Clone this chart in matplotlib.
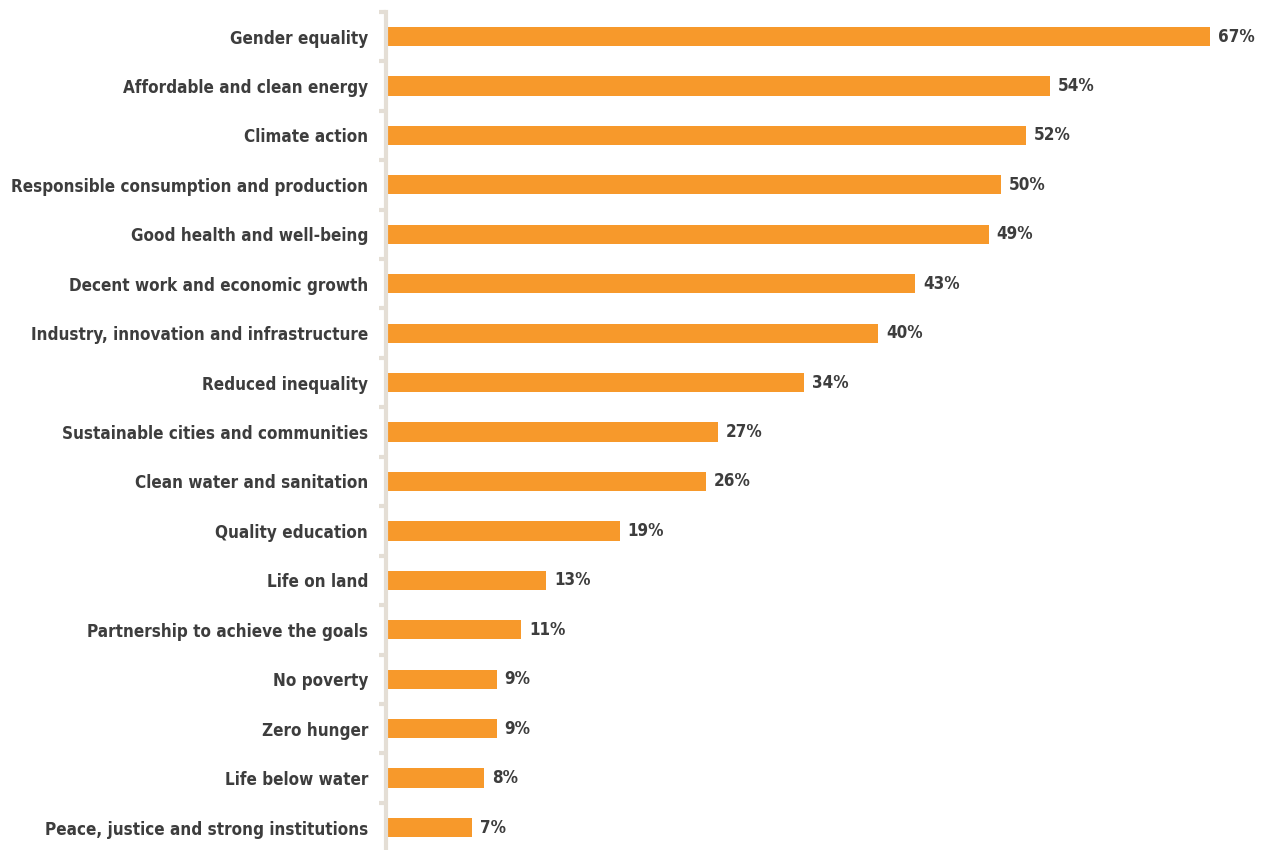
import numpy as np
import matplotlib.pyplot as plt
from matplotlib import font_manager
from matplotlib.font_manager import FontProperties

categories = [
    "Gender equality",
    "Affordable and clean energy",
    "Climate action",
    "Responsible consumption and production",
    "Good health and well-being",
    "Decent work and economic growth",
    "Industry, innovation and infrastructure",
    "Reduced inequality",
    "Sustainable cities and communities",
    "Clean water and sanitation",
    "Quality education",
    "Life on land",
    "Partnership to achieve the goals",
    "No poverty",
    "Zero hunger",
    "Life below water",
    "Peace, justice and strong institutions",
]
values = [67, 54, 52, 50, 49, 43, 40, 34, 27, 26, 19, 13, 11, 9, 9, 8, 7]

# look for a narrow bold face, else fall back to Roboto bold
cond = [f.fname for f in font_manager.fontManager.ttflist
        if ('Condensed' in f.fname or 'Narrow' in f.fname) and 'Bold' in f.fname
        and 'Oblique' not in f.fname and 'Italic' not in f.fname]
cond.sort(key=lambda p: ('DejaVu' not in p, p))
if cond:
    fp = FontProperties(fname=cond[0])
else:
    fp = FontProperties(family='Roboto', weight='bold')

bar_color = '#f7992b'
text_color = '#3d3d3d'
axis_color = '#e4ded5'

W, H = 1269, 850
fig = plt.figure(figsize=(W / 100, H / 100), dpi=100)
ax = fig.add_axes([386 / W, 0, 1 - 386 / W, (H - 11.8) / H])

# size the labels so the longest one is about 360 px wide
probe = fig.text(0, 0, categories[3], fontproperties=fp, fontsize=14)
fig.canvas.draw()
w = probe.get_window_extent().width
probe.remove()
fs = min(14.5, 14 * 360 / w)
fp.set_size(fs)

y = np.arange(len(categories))
ax.barh(y, values, height=0.39, color=bar_color)
for yi, v in zip(y, values):
    ax.text(v + 0.65, yi, f"{v}%", va='center', ha='left',
            fontproperties=fp, color=text_color)

ax.set_xlim(0, 883 / 12.3)
ax.set_ylim((H - 36.5) / 49.44, -0.5)
ax.set_yticks(y)
ax.set_yticklabels(categories, fontproperties=fp, color=text_color)
ax.tick_params(axis='y', which='major', length=0, pad=13)
ax.set_yticks(np.arange(-0.5, 16.5, 1), minor=True)
ax.tick_params(axis='y', which='minor', length=5, width=3, color=axis_color)
ax.set_xticks([])
for s in ['top', 'right', 'bottom']:
    ax.spines[s].set_visible(False)
ax.spines['left'].set_color(axis_color)
ax.spines['left'].set_linewidth(3)

fig.savefig('out.png', dpi=100)
